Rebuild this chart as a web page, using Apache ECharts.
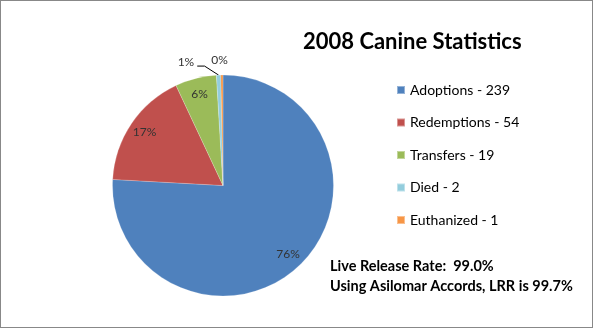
<!DOCTYPE html>
<html>
<head>
<meta charset="utf-8">
<script src="https://cdn.jsdelivr.net/npm/echarts@6/dist/echarts.min.js"></script>
<style>
  html, body { margin: 0; padding: 0; background: #fff; }
  #chart { width: 593px; height: 328px; box-sizing: border-box; border: 1px solid #888; }
</style>
</head>
<body>
<div id="chart"></div>
<script>
// 2008 canine outcomes
const categories = ['Adoptions', 'Redemptions', 'Transfers', 'Died', 'Euthanized'];
const counts = [239, 54, 19, 2, 1];
const colors = ['#4F81BD', '#C0504D', '#9BBB59', '#93CDDD', '#F79646'];
const titleText = '2008 Canine Statistics';
const noteLines = ['Live Release Rate:  99.0%', 'Using Asilomar Accords, LRR is 99.7%'];

const FONT = 'Lato, "Open Sans", sans-serif';
const total = counts.reduce((a, b) => a + b, 0);
const pieCenter = [222, 184.5];
const pieR = 110.5;

const sliceData = categories.map((name, i) => ({
  name: name,
  value: counts[i],
  itemStyle: { color: colors[i] }
}));

// Transparent ring used only to place the percentage labels toward the rim
const labelData = categories.map((name, i) => {
  const d = { name: name, value: counts[i], itemStyle: { color: 'rgba(0,0,0,0)' } };
  if (i === 3) {
    d.label = { position: 'outside', distanceToLabelLine: 3 };
    d.labelLine = { show: true, length: 9, length2: 16, lineStyle: { color: '#000', width: 1 } };
  } else if (i === 4) {
    d.label = { position: 'outside' };
    d.labelLine = { show: false, length: 0, length2: 0 };
  }
  return d;
});

// Spread the two tiny-slice labels: the smallest one sits above its wedge,
// the other moves left and its leader line bends diagonally toward it.
function nudgeLabels(p) {
  if (p.dataIndex === 4) return { dx: 11, dy: -15 };
  if (p.dataIndex === 3 && p.labelLinePoints) {
    const dx = -5, dy = -4;
    const start = p.labelLinePoints[0];
    const elbow = [start[0] - 14, start[1] - 9];
    const end = [p.labelRect.x + p.labelRect.width + dx + 3, elbow[1]];
    return { dx: dx, dy: dy, labelLinePoints: [start, elbow, end] };
  }
  return {};
}

const chart = echarts.init(document.getElementById('chart'));
chart.setOption({
  backgroundColor: '#fff',
  animation: false,
  title: [
    {
      text: titleText,
      left: 302, top: 30,
      padding: 0,
      textStyle: { fontFamily: FONT, fontSize: 22, fontWeight: 'bold', color: '#000' }
    },
    {
      text: noteLines.join('\n'),
      left: 329, top: 255,
      padding: 0,
      textStyle: { fontFamily: FONT, fontSize: 14.5, fontWeight: 'bold', color: '#000', lineHeight: 20 }
    }
  ],
  legend: {
    orient: 'vertical',
    left: 395, top: 81,
    padding: 0,
    icon: 'rect',
    itemWidth: 8, itemHeight: 8,
    itemGap: 16.5,
    data: categories,
    formatter: name => name + ' - ' + counts[categories.indexOf(name)],
    textStyle: { fontFamily: FONT, fontSize: 14, color: '#000', lineHeight: 16 }
  },
  series: [
    {
      type: 'pie',
      center: pieCenter,
      radius: pieR,
      startAngle: 90,
      clockwise: true,
      silent: true,
      label: { show: false },
      labelLine: { show: false },
      itemStyle: { borderColor: 'rgba(255,255,255,0.4)', borderWidth: 0.5 },
      data: sliceData
    },
    {
      type: 'pie',
      center: pieCenter,
      radius: [pieR * 0.66, pieR],
      startAngle: 90,
      clockwise: true,
      silent: true,
      avoidLabelOverlap: false,
      label: {
        show: true,
        position: 'inside',
        formatter: p => Math.round(p.value / total * 100) + '%',
        fontFamily: FONT, fontSize: 12, color: '#333'
      },
      data: labelData,
      labelLayout: nudgeLabels
    }
  ]
});
</script>
</body>
</html>
